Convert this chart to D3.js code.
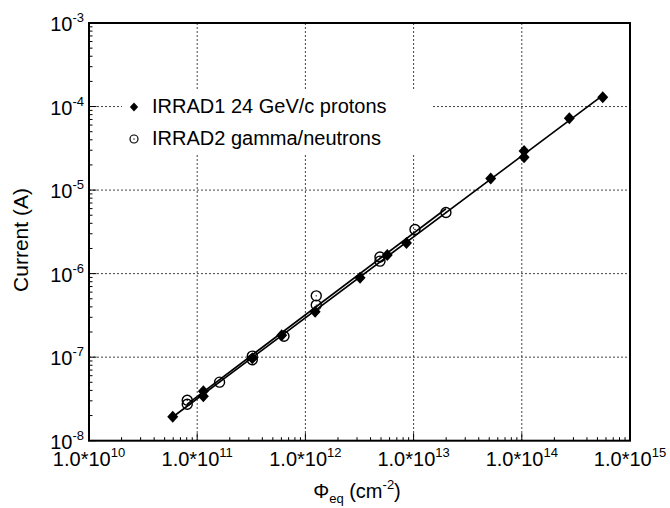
<!DOCTYPE html>
<html><head><meta charset="utf-8">
<script src="https://cdn.jsdelivr.net/npm/d3@7"></script>
<style>body{margin:0;background:#fff}svg{display:block}text{font-family:Arial,"Liberation Sans",Helvetica,sans-serif;fill:#000}</style>
</head><body><svg id="c" width="670" height="508"></svg>
<script>
// IRRAD1: 24 GeV/c protons (filled diamonds)
const irrad1Fluence = [5.94e10, 1.14e11, 1.14e11, 3.23e11, 6.04e11, 1.23e12, 3.2e12, 5.71e12, 8.59e12, 5.16e13, 1.05e14, 1.05e14, 2.75e14, 5.6e14];
const irrad1Current = [1.93e-8, 3.92e-8, 3.41e-8, 9.7e-8, 1.83e-7, 3.49e-7, 8.9e-7, 1.67e-6, 2.32e-6, 1.38e-5, 2.93e-5, 2.48e-5, 7.23e-5, 1.29e-4];
// IRRAD2: gamma/neutrons (open circles)
const irrad2Fluence = [8.09e10, 8.09e10, 1.61e11, 3.23e11, 3.23e11, 6.34e11, 1.26e12, 1.26e12, 4.89e12, 4.89e12, 1.03e13, 1.99e13];
const irrad2Current = [2.73e-8, 3.05e-8, 5.02e-8, 1.03e-7, 9.3e-8, 1.78e-7, 5.42e-7, 4.2e-7, 1.41e-6, 1.58e-6, 3.38e-6, 5.38e-6];
const seriesNames = ["IRRAD1 24 GeV/c protons", "IRRAD2 gamma/neutrons"];
const xTickExp = [10, 11, 12, 13, 14, 15];
const yTickExp = [-8, -7, -6, -5, -4, -3];

const svg = d3.select("#c");
const L = 89, R = 630, T = 23, B = 440.7;
const x = d3.scaleLog().domain([1e10, 1e15]).range([L, R]);
const y = d3.scaleLog().domain([1e-8, 1e-3]).range([B, T]);

// grid
const g = svg.append("g");
xTickExp.slice(1, -1).forEach(e => g.append("line").attr("x1", x(10 ** e)).attr("x2", x(10 ** e)).attr("y1", T).attr("y2", B)
  .attr("stroke", "#444").attr("stroke-width", 1).attr("stroke-dasharray", "2,2"));
yTickExp.slice(1, -1).forEach(e => g.append("line").attr("y1", y(10 ** e)).attr("y2", y(10 ** e)).attr("x1", L).attr("x2", R)
  .attr("stroke", "#444").attr("stroke-width", 1).attr("stroke-dasharray", "2,2"));

// legend background
svg.append("rect").attr("x", 122).attr("y", 90).attr("width", 310).attr("height", 63).attr("fill", "#fff");

// ticks
const tk = svg.append("g").attr("stroke", "#000").attr("stroke-width", 1);
for (let e = 10; e < 15; e++) for (let m = 1; m <= 9; m++) {
  const v = m * 10 ** e, len = m === 1 ? 7.5 : 3.5;
  tk.append("line").attr("x1", x(v)).attr("x2", x(v)).attr("y1", B).attr("y2", B - len);
}
for (let e = -8; e < -3; e++) for (let m = 1; m <= 9; m++) {
  const v = m * 10 ** e, len = m === 1 ? 7.5 : 3.5;
  tk.append("line").attr("y1", y(v)).attr("y2", y(v)).attr("x1", L).attr("x2", L + len);
}

// fit lines (least squares in log-log space)
function fitLine(xs, ys) {
  const lx = xs.map(Math.log10), ly = ys.map(Math.log10);
  const mx = d3.mean(lx), my = d3.mean(ly);
  const b = d3.sum(lx, (v, i) => (v - mx) * (ly[i] - my)) / d3.sum(lx, v => (v - mx) ** 2);
  const a = my - b * mx;
  const [x0, x1] = d3.extent(xs);
  return [[x0, 10 ** (a + b * Math.log10(x0))], [x1, 10 ** (a + b * Math.log10(x1))]];
}
const line = d3.line().x(d => x(d[0])).y(d => y(d[1]));
[[irrad1Fluence, irrad1Current], [irrad2Fluence, irrad2Current]].forEach(([xs, ys]) =>
  svg.append("path").attr("d", line(fitLine(xs, ys))).attr("fill", "none").attr("stroke", "#000").attr("stroke-width", 1.7));

// markers
const diamond = (s) => `M0,${-6 * s}L${5.5 * s},0L0,${6 * s}L${-5.5 * s},0Z`;
irrad2Fluence.forEach((f, i) => {
  const gg = svg.append("g").attr("transform", `translate(${x(f)},${y(irrad2Current[i])})`);
  gg.append("circle").attr("r", 5).attr("fill", "none").attr("stroke", "#000").attr("stroke-width", 1.4);
  gg.append("circle").attr("r", 0.7).attr("fill", "#000");
});
irrad1Fluence.forEach((f, i) => {
  svg.append("path").attr("d", diamond(1)).attr("transform", `translate(${x(f)},${y(irrad1Current[i])})`).attr("fill", "#000");
});

// frame
svg.append("rect").attr("x", L).attr("y", T).attr("width", R - L).attr("height", B - T)
  .attr("fill", "none").attr("stroke", "#000").attr("stroke-width", 2);

// tick labels
xTickExp.forEach(e => {
  const t = svg.append("text").attr("x", x(10 ** e)).attr("y", 466).attr("text-anchor", "middle").attr("font-size", 20);
  t.append("tspan").text("1.0*10");
  t.append("tspan").attr("dy", -9).attr("font-size", 13).text(e);
});
yTickExp.forEach(e => {
  const t = svg.append("text").attr("x", 84).attr("y", y(10 ** e) + 8).attr("text-anchor", "end").attr("font-size", 20);
  t.append("tspan").text("10");
  t.append("tspan").attr("dy", -9).attr("font-size", 13).text(e);
});

// axis titles
svg.append("text").attr("transform", "translate(28,240) rotate(-90)").attr("text-anchor", "middle").attr("font-size", 21).text("Current (A)");
const xt = svg.append("text").attr("x", 357).attr("y", 498).attr("text-anchor", "middle").attr("font-size", 20);
xt.append("tspan").text("Φ");
xt.append("tspan").attr("dy", 5).attr("font-size", 13).text("eq");
xt.append("tspan").attr("dy", -5).text(" (cm");
xt.append("tspan").attr("dy", -9).attr("font-size", 13).text("-2");
xt.append("tspan").attr("dy", 9).text(")");

// legend
svg.append("path").attr("d", diamond(0.75)).attr("transform", "translate(134,107)").attr("fill", "#000");
svg.append("circle").attr("cx", 134).attr("cy", 139).attr("r", 4).attr("fill", "none").attr("stroke", "#000").attr("stroke-width", 1.2);
svg.append("circle").attr("cx", 134).attr("cy", 139).attr("r", 0.7).attr("fill", "#000");
seriesNames.forEach((n, i) => svg.append("text").attr("x", 152).attr("y", 113 + 32 * i).attr("font-size", 20).text(n));
</script></body></html>
